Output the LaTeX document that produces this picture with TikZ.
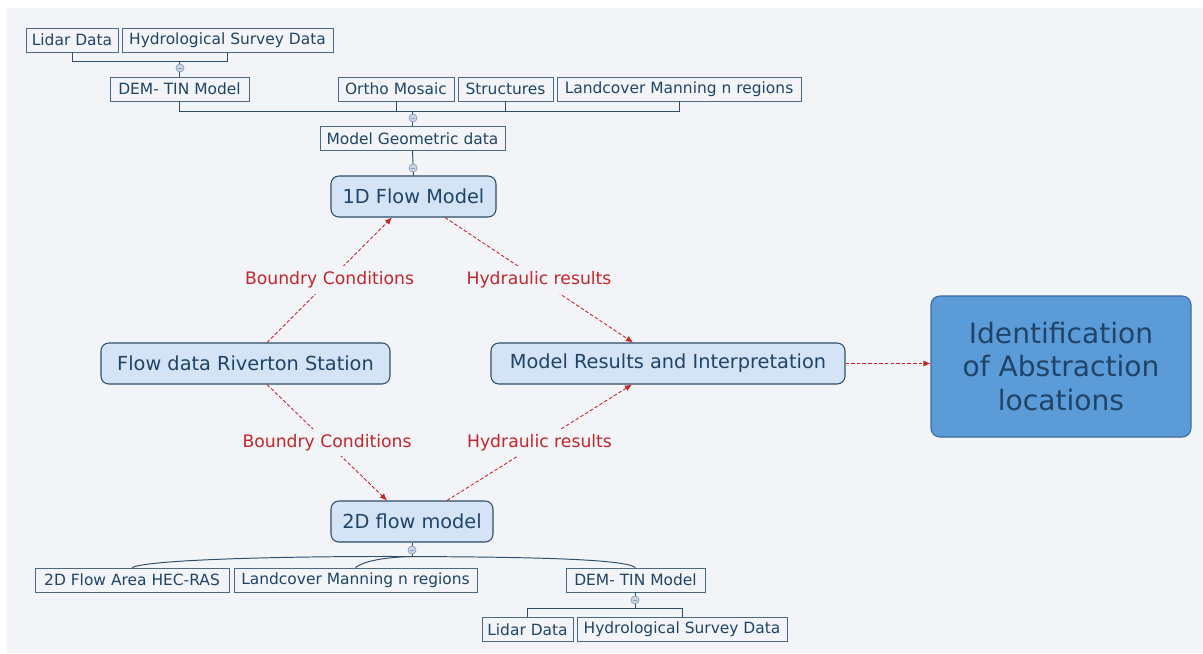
\documentclass[tikz,border=0pt]{standalone}
\usepackage{fontspec}
\setmainfont{DejaVu Sans}
\usetikzlibrary{positioning,arrows.meta,calc}
\definecolor{bg}{HTML}{F2F4F7}
\definecolor{edge}{HTML}{2E4D6B}
\definecolor{ink}{HTML}{1F4468}
\definecolor{boxfill}{HTML}{D5E3F7}
\definecolor{bigfill}{HTML}{5B9BD8}
\definecolor{bigedge}{HTML}{3B6C9E}
\definecolor{linkred}{HTML}{C4262B}
\definecolor{knobfill}{HTML}{C9D6E6}
\newcommand{\pxu}{0.02cm}

\begin{document}
\begin{tikzpicture}[x=0.02cm,y=-0.02cm,
  leaf/.style={draw=edge!85!white,line width=.5pt,text=ink,inner sep=0pt,minimum height=24*\pxu,font=\fontsize{8.8}{10}\selectfont},
  topic/.style={draw=edge,line width=.6pt,fill=boxfill,rounded corners=4.5pt,text=ink,inner sep=0pt,minimum height=41*\pxu,font=\fontsize{11}{13}\selectfont},
  knob/.style={circle,draw=knobfill!60!edge,fill=knobfill,line width=.4pt,inner sep=0pt,minimum size=8*\pxu},
  tree/.style={draw=edge,line width=.55pt},
  link/.style={draw=linkred,dash pattern=on 2pt off 1.2pt,line width=.5pt,-{Latex[length=4pt,width=3.5pt]}},
  why/.style={text=linkred,fill=bg,inner sep=3pt,font=\fontsize{9.8}{11}\selectfont}]
\useasboundingbox (0,0) rectangle (1203,653);
\fill[white] (0,0) rectangle (1203,653);
\fill[bg] (7,8) rectangle (1203,653);

% Top branch: geometry inputs
\node[leaf,minimum width=92*\pxu] (lidA) at (72,40) {Lidar Data};
\node[leaf,minimum width=211*\pxu] (hydA) at (227.5,40) {Hydrological Survey Data};
\node[leaf,minimum width=139*\pxu] (demA) at (179.5,89) {DEM- TIN Model};
\node[leaf,minimum width=116*\pxu] (ortho) at (396,89) {Ortho Mosaic};
\node[leaf,minimum width=95*\pxu] (struct) at (505.5,89) {Structures};
\node[leaf,minimum width=244*\pxu] (landA) at (679,89) {Landcover Manning n regions};
\node[leaf,minimum width=185*\pxu] (geom) at (412.5,138.5) {Model Geometric data};

% Main topics
\node[topic,minimum width=165*\pxu] (flow1) at (413.5,196.5) {1D Flow Model};
\node[topic,minimum width=289*\pxu] (riv) at (245.5,363.5) {Flow data Riverton Station};
\node[topic,minimum width=354*\pxu] (res) at (668,363.5) {Model Results and Interpretation};
\node[topic,minimum width=162*\pxu] (flow2) at (412,521.5) {2D flow model};
\node[draw=bigedge,fill=bigfill,line width=.6pt,rounded corners=5pt,text=ink,inner sep=0pt,
  minimum width=260*\pxu,minimum height=141*\pxu,align=center,
  font=\fontsize{16}{19}\selectfont] (ident) at (1061,366.5) {Identification\\of Abstraction\\locations};

% Bottom branch
\node[leaf,minimum width=194*\pxu] (area) at (132,580) {2D Flow Area HEC-RAS};
\node[leaf,minimum width=243*\pxu] (landB) at (355.5,580) {Landcover Manning n regions};
\node[leaf,minimum width=139*\pxu] (demB) at (635.5,580) {DEM- TIN Model};
\node[leaf,minimum width=91*\pxu] (lidB) at (527.5,629.5) {Lidar Data};
\node[leaf,minimum width=210*\pxu] (hydB) at (682,629.5) {Hydrological Survey Data};

% Tree lines
\draw[tree] (lidA.south) -- ++(0,9) -| (hydA.south);
\draw[tree] (demA.north) -- ++(0,-16);
\draw[tree] (demA.south) -- ++(0,10) -| (landA.south);
\draw[tree] (ortho.south) -- ++(0,10);
\draw[tree] (struct.south) -- ++(0,10);
\draw[tree] (geom.north) -- ++(0,-15.5);
\draw[tree] (geom.south) -- (flow1.north);
\draw[tree] (flow2.south) -- ++(0,14) coordinate (j2);
\draw[tree] (j2) .. controls (300,556) and (150,559) .. (area.north);
\draw[tree] (j2) .. controls (390,557) and (365,560) .. (landB.north);
\draw[tree] (j2) .. controls (530,557) and (625,559) .. (demB.north);
\draw[tree] (demB.south) -- ++(0,16);
\draw[tree] (lidB.north) -- ++(0,-9) -| (hydB.north);

% Collapse knobs
\node[knob] (k1) at (180,68) {};
\node[knob] (k2) at (413,118) {};
\node[knob] (k3) at (413,168) {};
\node[knob] (k4) at (412,550) {};
\node[knob] (k5) at (635,600) {};
\foreach \k in {k1,k2,k3,k4,k5}{
  \draw[edge!55!white,line width=.45pt] ([xshift=-1.3pt]\k.center) -- ([xshift=1.3pt]\k.center);
}

% Dashed links
\draw[link] ($(riv.north)+(21.5,0)$) -- node[why] {Boundry Conditions} ($(flow1.south)+(-21.5,0)$);
\draw[link] ($(flow1.south)+(31.5,0)$) -- node[why] {Hydraulic results} ($(res.north)+(-35,0)$);
\draw[link] ($(riv.south)+(21.5,0)$) -- node[why] {Boundry Conditions} ($(flow2.north)+(-25,0)$);
\draw[link] ($(flow2.north)+(35,0)$) -- node[why] {Hydraulic results} ($(res.south)+(-36,0)$);
\draw[link] (res.east) -- (res.east -| ident.west);
\end{tikzpicture}
\end{document}
